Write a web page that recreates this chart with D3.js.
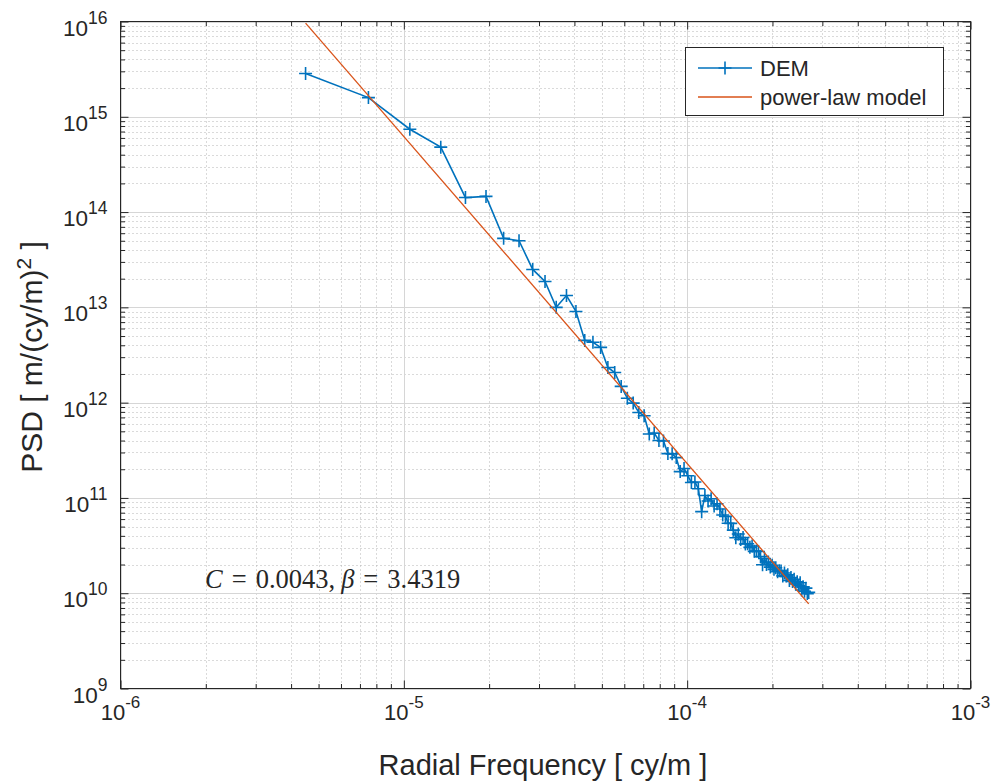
<!DOCTYPE html>
<html><head><meta charset="utf-8">
<script src="https://cdn.jsdelivr.net/npm/d3@7"></script>
<style>
body{margin:0;background:#fff}
svg{display:block}
text{font-family:"Liberation Sans",Arial,Helvetica,sans-serif;fill:#262626}
</style>
</head><body>
<svg id="chart" width="997" height="783"></svg>
<script>
// ---- data ----
const freq = [4.5e-6, 7.5e-6, 1.05e-5, 1.35e-5, 1.65e-5, 1.95e-5, 2.25e-5, 2.55e-5, 2.85e-5, 3.15e-5,
  3.45e-5, 3.75e-5, 4.05e-5, 4.35e-5, 4.65e-5, 4.95e-5, 5.25e-5, 5.55e-5, 5.85e-5, 6.15e-5,
  6.45e-5, 6.75e-5, 7.05e-5, 7.35e-5, 7.65e-5, 7.95e-5, 8.25e-5, 8.55e-5, 8.85e-5, 9.15e-5,
  9.45e-5, 9.75e-5, 1.005e-4, 1.035e-4, 1.065e-4, 1.095e-4, 1.125e-4, 1.155e-4, 1.185e-4, 1.215e-4,
  1.245e-4, 1.275e-4, 1.305e-4, 1.335e-4, 1.365e-4, 1.395e-4, 1.425e-4, 1.455e-4, 1.485e-4, 1.515e-4,
  1.545e-4, 1.575e-4, 1.605e-4, 1.635e-4, 1.665e-4, 1.695e-4, 1.725e-4, 1.755e-4, 1.785e-4, 1.815e-4,
  1.845e-4, 1.875e-4, 1.905e-4, 1.935e-4, 1.965e-4, 1.995e-4, 2.025e-4, 2.055e-4, 2.085e-4, 2.115e-4,
  2.145e-4, 2.175e-4, 2.205e-4, 2.235e-4, 2.265e-4, 2.295e-4, 2.325e-4, 2.355e-4, 2.385e-4, 2.415e-4,
  2.445e-4, 2.475e-4, 2.505e-4, 2.535e-4, 2.565e-4, 2.595e-4, 2.625e-4, 2.655e-4, 2.685e-4];
const psd = [2.85e15, 1.59e15, 7.4e14, 4.8e14, 1.42e14, 1.46e14, 5.3e13, 5.0e13, 2.5e13, 1.87e13,
  1.0e13, 1.33e13, 9.06e12, 4.5e12, 4.3e12, 3.8e12, 2.34e12, 2.07e12, 1.48e12, 1.11e12,
  9.89e11, 7.89e11, 7.28e11, 4.68e11, 4.79e11, 4.01e11, 3.96e11, 2.92e11, 2.90e11, 2.65e11,
  1.89e11, 2.04e11, 1.71e11, 1.45e11, 1.47e11, 1.25e11, 7.18e10, 1.06e11, 9.29e10, 9.79e10,
  8.22e10, 8.69e10, 7.66e10, 6.62e10, 6.41e10, 5.43e10, 5.41e10, 4.59e10, 3.82e10, 4.19e10,
  3.66e10, 3.84e10, 3.28e10, 3.30e10, 3.03e10, 3.13e10, 2.75e10, 2.77e10, 2.74e10, 2.42e10,
  1.99e10, 2.31e10, 2.00e10, 2.12e10, 1.88e10, 1.96e10, 1.78e10, 1.85e10, 1.68e10, 1.72e10,
  1.71e10, 1.52e10, 1.63e10, 1.52e10, 1.56e10, 1.36e10, 1.46e10, 1.33e10, 1.40e10, 1.25e10,
  1.32e10, 1.20e10, 1.29e10, 1.08e10, 1.17e10, 1.05e10, 1.13e10, 9.91e9, 1.02e10];
const modelFreq = [4.5e-6, 2.685e-4];
const modelPsd = [9.6e15, 7.74e9];
const seriesNames = ["DEM", "power-law model"];
const xTickExps = [-6, -5, -4, -3];
const yTickExps = [9, 10, 11, 12, 13, 14, 15, 16];
const xLabel = "Radial Frequency [ cy/m ]";
const fitC = "0.0043", fitBeta = "3.4319";

// ---- drawing ----
const svg = d3.select("#chart");
const L = 120.5, R = 970.5, T = 21.5, B = 688.5;
const x = d3.scaleLog().domain([1e-6, 1e-3]).range([L, R]);
const y = d3.scaleLog().domain([1e9, 1e16]).range([B, T]);
const blue = "#0072BD", orange = "#D95319", axCol = "#262626";

svg.append("rect").attr("width", 997).attr("height", 783).attr("fill", "#fff");

const xMajor = xTickExps.map(e => Math.pow(10, e));
const yMajor = yTickExps.map(e => Math.pow(10, e));
const isMajor = v => Math.abs(Math.log10(v) - Math.round(Math.log10(v))) < 1e-9;
const xMinor = x.ticks().filter(v => !isMajor(v));
const yMinor = y.ticks().filter(v => !isMajor(v));

const grid = svg.append("g");
grid.selectAll(".mx").data(xMinor).join("line")
  .attr("x1", d => Math.round(x(d)) + 0.5).attr("x2", d => Math.round(x(d)) + 0.5)
  .attr("y1", T).attr("y2", B).attr("stroke", "#b4b4b4").attr("stroke-dasharray", "1,3");
grid.selectAll(".my").data(yMinor).join("line")
  .attr("y1", d => Math.round(y(d)) + 0.5).attr("y2", d => Math.round(y(d)) + 0.5)
  .attr("x1", L).attr("x2", R).attr("stroke", "#b4b4b4").attr("stroke-dasharray", "1,3");
grid.selectAll(".Mx").data(xMajor).join("line")
  .attr("x1", d => Math.round(x(d)) + 0.5).attr("x2", d => Math.round(x(d)) + 0.5)
  .attr("y1", T).attr("y2", B).attr("stroke", "#d6d6d6");
grid.selectAll(".My").data(yMajor).join("line")
  .attr("y1", d => Math.round(y(d)) + 0.5).attr("y2", d => Math.round(y(d)) + 0.5)
  .attr("x1", L).attr("x2", R).attr("stroke", "#d6d6d6");

// axes (ticks inward on all sides)
function styleAxis(g) {
  g.select(".domain").remove();
  g.selectAll(".tick line").attr("stroke", axCol);
  g.selectAll(".tick text").remove();
}
const majLen = 8, minLen = 4.5;
[[d3.axisBottom, B], [d3.axisTop, T]].forEach(([ax, pos]) => {
  svg.append("g").attr("transform", `translate(0,${pos})`)
    .call(ax(x).tickValues(xMajor).tickSize(-majLen).tickFormat(() => "")).call(styleAxis);
  svg.append("g").attr("transform", `translate(0,${pos})`)
    .call(ax(x).tickValues(xMinor).tickSize(-minLen).tickFormat(() => "")).call(styleAxis);
});
[[d3.axisLeft, L], [d3.axisRight, R]].forEach(([ax, pos]) => {
  svg.append("g").attr("transform", `translate(${pos},0)`)
    .call(ax(y).tickValues(yMajor).tickSize(-majLen).tickFormat(() => "")).call(styleAxis);
  svg.append("g").attr("transform", `translate(${pos},0)`)
    .call(ax(y).tickValues(yMinor).tickSize(-minLen).tickFormat(() => "")).call(styleAxis);
});

// tick labels 10^n
const tl = svg.append("g");
xTickExps.forEach(e => {
  const t = tl.append("text").attr("x", x(Math.pow(10, e))).attr("y", B + 31)
    .attr("text-anchor", "middle").attr("font-size", 22);
  t.append("tspan").text("10");
  t.append("tspan").attr("dy", -12).attr("font-size", 17).text(e < 0 ? "-" + (-e) : e);
});
yTickExps.forEach(e => {
  const t = tl.append("text").attr("x", L - 13).attr("y", y(Math.pow(10, e)) + 14)
    .attr("text-anchor", "end").attr("font-size", 22.5);
  t.append("tspan").text("10");
  t.append("tspan").attr("dy", -12).attr("font-size", 17.5).text(e);
});

// axis labels
svg.append("text").attr("x", 543).attr("y", 775).attr("text-anchor", "middle")
  .attr("font-size", 29).text(xLabel);
const yl = svg.append("text").attr("transform", "translate(42,357) rotate(-90)")
  .attr("text-anchor", "middle").attr("font-size", 30);
yl.append("tspan").text("PSD [ m/(cy/m)");
yl.append("tspan").attr("dy", -11).attr("font-size", 21).text("2");
yl.append("tspan").attr("dy", 11).text(" ]");

// plot area clip
svg.append("clipPath").attr("id", "clip").append("rect")
  .attr("x", L).attr("y", T).attr("width", R - L).attr("height", B - T);
const plot = svg.append("g").attr("clip-path", "url(#clip)");

// DEM line + markers
const pts = freq.map((f, i) => [f, psd[i]]);
plot.append("path").datum(pts)
  .attr("d", d3.line().x(d => x(d[0])).y(d => y(d[1])))
  .attr("fill", "none").attr("stroke", blue).attr("stroke-width", 1.6);
const ms = 6.5;
plot.selectAll(".pm").data(pts).join("path")
  .attr("d", d => { const px = x(d[0]), py = y(d[1]);
    return `M${px - ms},${py}H${px + ms}M${px},${py - ms}V${py + ms}`; })
  .attr("stroke", blue).attr("stroke-width", 1.6).attr("fill", "none");

// model line
plot.append("path")
  .datum(modelFreq.map((f, i) => [f, modelPsd[i]]))
  .attr("d", d3.line().x(d => x(d[0])).y(d => y(d[1])))
  .attr("fill", "none").attr("stroke", orange).attr("stroke-width", 1.3);

// axes box
svg.append("rect").attr("x", L).attr("y", T).attr("width", R - L).attr("height", B - T)
  .attr("fill", "none").attr("stroke", axCol).attr("stroke-width", 1);

// annotation (LaTeX-like spacing)
const ann = svg.append("text").attr("x", 205).attr("y", 588)
  .attr("font-size", 26.5)
  .style("font-family", "'Liberation Serif','DejaVu Serif',serif");
ann.append("tspan").attr("font-style", "italic").text("C");
ann.append("tspan").attr("dx", 9).text("=");
ann.append("tspan").attr("dx", 9).text(fitC + ",");
ann.append("tspan").attr("dx", 6).attr("font-style", "italic").text("β");
ann.append("tspan").attr("dx", 9).text("=");
ann.append("tspan").attr("dx", 9).text(fitBeta);

// legend
const lg = svg.append("g");
lg.append("rect").attr("x", 685.5).attr("y", 47.5).attr("width", 258).attr("height", 68)
  .attr("fill", "#fff").attr("stroke", axCol);
const ly = [68, 97];
lg.append("line").attr("x1", 698).attr("x2", 752).attr("y1", ly[0]).attr("y2", ly[0])
  .attr("stroke", blue).attr("stroke-width", 1.6);
lg.append("path").attr("d", `M${725 - ms},${ly[0]}H${725 + ms}M725,${ly[0] - ms}V${ly[0] + ms}`)
  .attr("stroke", blue).attr("stroke-width", 1.6);
lg.append("line").attr("x1", 698).attr("x2", 752).attr("y1", ly[1]).attr("y2", ly[1])
  .attr("stroke", orange).attr("stroke-width", 1.5);
seriesNames.forEach((s, i) => {
  lg.append("text").attr("x", 760).attr("y", ly[i] + 8).attr("font-size", 22).text(s);
});
</script>
</body></html>
